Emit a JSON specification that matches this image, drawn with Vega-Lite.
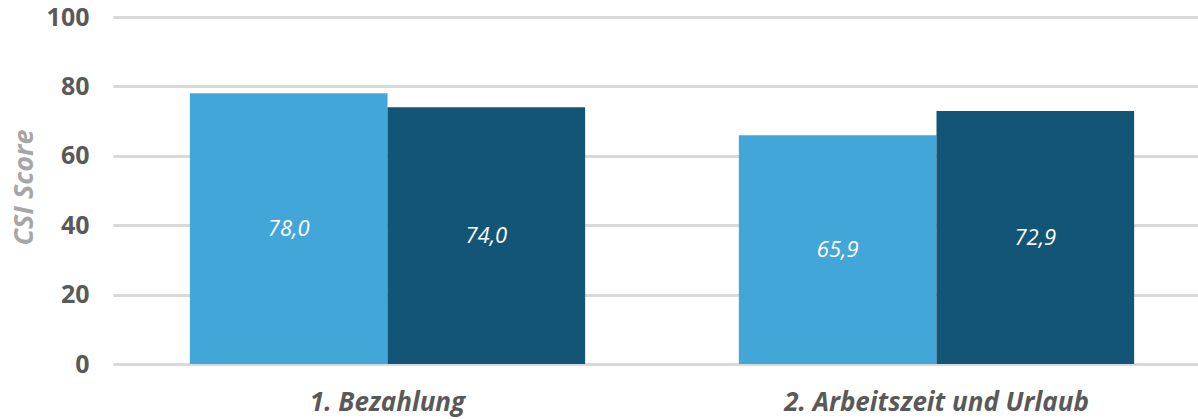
{
  "$schema": "https://vega.github.io/schema/vega-lite/v6.json",
  "width": 1087,
  "height": 347,
  "autosize": {"type": "none"},
  "padding": {"left": 111, "top": 17, "right": 0, "bottom": 55},
  "background": "white",
  "config": {
    "locale": {"number": {"decimal": ",", "thousands": ".", "grouping": [3], "currency": ["", " €"]}},
    "view": {"stroke": null}
  },
  "data": {
    "values": [
      {"bereich": "1. Bezahlung", "serie": "A", "score": 78.0},
      {"bereich": "1. Bezahlung", "serie": "B", "score": 74.0},
      {"bereich": "2. Arbeitszeit und Urlaub", "serie": "A", "score": 65.9},
      {"bereich": "2. Arbeitszeit und Urlaub", "serie": "B", "score": 72.9}
    ]
  },
  "encoding": {
    "x": {
      "field": "bereich",
      "type": "nominal",
      "sort": null,
      "scale": {"range": [2, 1100], "paddingInner": 0.28, "paddingOuter": 0.14},
      "axis": {
        "title": null,
        "domain": false,
        "ticks": false,
        "labelAngle": 0,
        "labelLimit": 0,
        "labelFont": "Open Sans",
        "labelFontWeight": "bold",
        "labelFontStyle": "italic",
        "labelFontSize": 26,
        "labelColor": "#595959",
        "labelPadding": 25
      }
    },
    "xOffset": {
      "field": "serie",
      "type": "nominal",
      "sort": null,
      "scale": {"paddingInner": 0, "paddingOuter": 0}
    }
  },
  "layer": [
    {
      "mark": {"type": "bar"},
      "encoding": {
        "y": {
          "field": "score",
          "type": "quantitative",
          "scale": {"domain": [0, 100]},
          "axis": {
            "values": [0, 20, 40, 60, 80, 100],
            "grid": true,
            "gridColor": "#d9d9d9",
            "gridWidth": 3,
            "domain": false,
            "ticks": false,
            "labelFont": "Open Sans",
            "labelFontWeight": "bold",
            "labelFontSize": 25,
            "labelColor": "#595959",
            "labelPadding": 22,
            "labelFlush": false,
            "title": "CSI Score",
            "titleFont": "Open Sans",
            "titleFontWeight": "bold",
            "titleFontStyle": "italic",
            "titleFontSize": 27,
            "titleColor": "#a6a6a6",
            "titleAngle": 270,
            "titleAlign": "center",
            "titleBaseline": "middle",
            "titleX": -87,
            "titleY": 170
          }
        },
        "color": {
          "field": "serie",
          "type": "nominal",
          "scale": {"range": ["#42a6d8", "#125577"]},
          "legend": null
        }
      }
    },
    {
      "mark": {
        "type": "text",
        "font": "Open Sans",
        "fontStyle": "italic",
        "fontSize": 22,
        "color": "white",
        "baseline": "middle"
      },
      "encoding": {
        "y": {
          "field": "score",
          "type": "quantitative",
          "scale": {"domain": [0, 200]},
          "axis": null
        },
        "text": {"field": "score", "type": "quantitative", "format": ".1f"}
      }
    }
  ],
  "resolve": {"scale": {"y": "independent"}}
}
